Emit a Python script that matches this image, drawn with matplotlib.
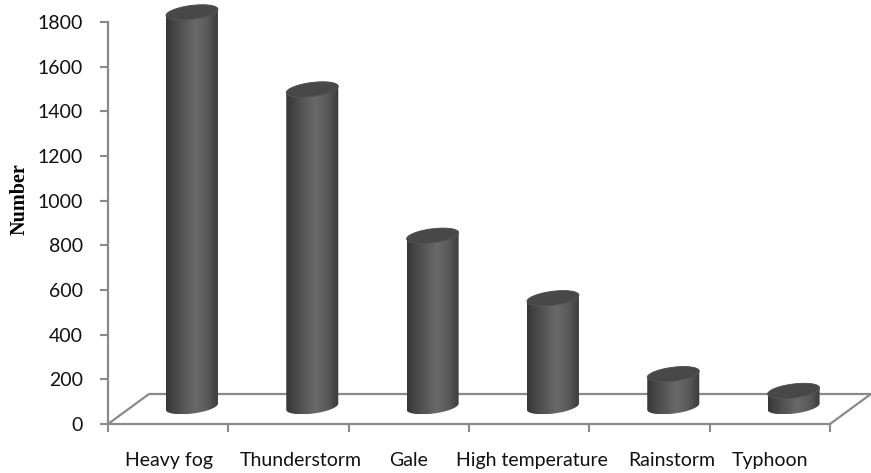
import numpy as np
import matplotlib
matplotlib.use("Agg")
import matplotlib.pyplot as plt
from matplotlib.patches import Polygon
from matplotlib.colors import LinearSegmentedColormap

# data
categories = ['Heavy fog', 'Thunderstorm', 'Gale', 'High temperature', 'Rainstorm', 'Typhoon']
counts = [1765, 1420, 765, 485, 145, 70]
yticks = [0, 200, 400, 600, 800, 1000, 1200, 1400, 1600, 1800]

# look of the 3D-ish floor and cylinders (pixels)
floor_dx, floor_dy = 41, 30      # depth of the floor
depth_frac = 0.58                # where the cylinders stand in the depth
cyl_a, cyl_b = 23.8, 13.0        # cylinder radius across / along depth
axis_gray = '#8a8a8a'

fig = plt.figure(figsize=(8.71, 4.73), dpi=100)
W, H = 871, 473
ymax = 1895
ax = fig.add_axes([108 / W, (H - 424) / H, (W - 108) / W, 402 / 1800 * ymax / H])
xlim = (-0.5, -0.5 + (W - 108) / 120.33)
ax.set_xlim(*xlim)
ax.set_ylim(0, ymax)

# pixel scales from the axes
p0 = ax.transData.transform((0, 0))
sx = ax.transData.transform((1, 0))[0] - p0[0]
sy = ax.transData.transform((0, 1))[1] - p0[1]

# depth direction (unit vector in pixels, up is positive)
dlen = np.hypot(floor_dx, floor_dy)
ux, uy = floor_dx / dlen, floor_dy / dlen

# floor
n = len(categories)
fl = (-0.5, 0)
fr = (n - 0.5, 0)
bl = (-0.5 + floor_dx / sx, floor_dy / sy)
br = (n - 0.5 + floor_dx / sx, floor_dy / sy)
ax.plot([fl[0], bl[0], br[0], fr[0]], [fl[1], bl[1], br[1], fr[1]],
        color=axis_gray, lw=1.6, zorder=1, clip_on=False, solid_capstyle='butt')

cmap = LinearSegmentedColormap.from_list('cyl', [
    (0.0, '#363636'), (0.2, '#4a4a4a'), (0.55, '#696969'),
    (0.78, '#5a5a5a'), (0.93, '#444444'), (1.0, '#3a3a3a')])
grad = np.linspace(0, 1, 256).reshape(1, -1)


def ellipse_pts(cx, cy, t):
    # cx, cy in data, offsets computed in pixels
    xs = cx + (cyl_a * np.cos(t) + cyl_b * ux * np.sin(t)) / sx
    ys = cy + (cyl_b * uy * np.sin(t)) / sy
    return xs, ys


t0 = np.arctan2(cyl_b * ux, cyl_a)
for i, v in enumerate(counts):
    cx = i + depth_frac * floor_dx / sx
    cy0 = depth_frac * floor_dy / sy
    cy1 = cy0 + v
    tf = np.linspace(t0 + np.pi, t0 + 2 * np.pi, 60)
    tb = np.linspace(t0, t0 + np.pi, 60)
    bx, by = ellipse_pts(cx, cy0, tf)
    tx, ty = ellipse_pts(cx, cy1, tb)
    body = Polygon(np.column_stack([np.r_[bx, tx], np.r_[by, ty]]),
                   closed=True, facecolor='none', edgecolor='none', zorder=2)
    ax.add_patch(body)
    im = ax.imshow(grad, cmap=cmap, aspect='auto', zorder=2,
                   extent=(bx.min(), bx.max(), by.min(), ty.max()),
                   interpolation='bilinear')
    im.set_clip_path(body)
    ta = np.linspace(0, 2 * np.pi, 120)
    ex, ey = ellipse_pts(cx, cy1, ta)
    ax.add_patch(Polygon(np.column_stack([ex, ey]), closed=True,
                         facecolor='#484848', edgecolor='#555555', lw=0.6, zorder=3))

ax.set_xlim(*xlim)
ax.set_ylim(0, ymax)

# axes styling
for s in ['top', 'right']:
    ax.spines[s].set_visible(False)
ax.spines['left'].set_color(axis_gray)
ax.spines['left'].set_linewidth(1.6)
ax.spines['left'].set_bounds(0, 1800)
ax.spines['bottom'].set_color(axis_gray)
ax.spines['bottom'].set_linewidth(1.6)
ax.spines['bottom'].set_bounds(-0.5, n - 0.5)
ax.spines['bottom'].set_zorder(4)

ax.set_yticks(yticks)
ax.set_yticklabels([str(t) for t in yticks], fontsize=14, family='Lato', color='#111111')
ax.tick_params(axis='y', length=6, width=1.5, color=axis_gray, pad=12)
ax.set_xticks(np.arange(-0.5, n, 1.0))
ax.set_xticklabels([])
ax.tick_params(axis='x', length=6, width=1.5, color=axis_gray)

label_nudge = [1, 12, 0, 3, 22, 0]
for i, (c, dxp) in enumerate(zip(categories, label_nudge)):
    ax.annotate(c, xy=(i, 0), xycoords='data',
                xytext=(dxp, -36), textcoords='offset pixels',
                ha='center', va='center', fontsize=14, family='Lato', color='#111111')

fig.text(20 / W, 1 - 199 / H, 'Number', rotation=90, ha='center', va='center',
         fontsize=14.5, family='Liberation Serif', fontweight='bold')

fig.savefig('out.png', dpi=100)
